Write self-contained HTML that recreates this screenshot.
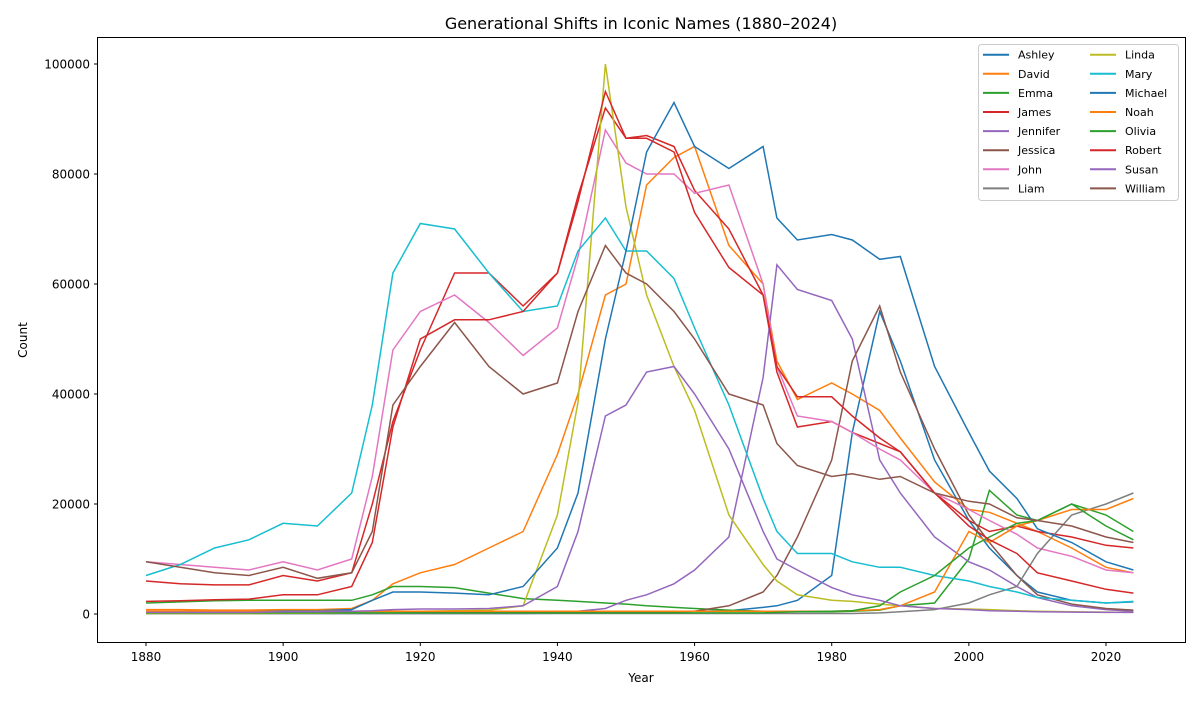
<!DOCTYPE html>
<html><head><meta charset="utf-8"><style>
body{margin:0;background:#fff;font-family:"Liberation Sans","DejaVu Sans",sans-serif;}
svg text{font-family:"DejaVu Sans","Liberation Sans",sans-serif;}
</style></head><body>
<svg id="chart" width="1200" height="700" xmlns="http://www.w3.org/2000/svg">
<rect x="0" y="0" width="1200" height="700" fill="#fff"/>
<text x="641" y="29" font-size="16" text-anchor="middle">Generational Shifts in Iconic Names (1880–2024)</text>
<g id="plot"></g>
<rect x="97.5" y="37.5" width="1088" height="605" fill="none" stroke="#000" stroke-width="1"/>
<text x="641" y="682" font-size="12" text-anchor="middle">Year</text>
<text x="27" y="340" font-size="12" text-anchor="middle" transform="rotate(-90 27 340)">Count</text>
<g id="axes"></g>
<g id="legend"></g>
</svg>
<script>
const years=[1880,1885,1890,1895,1900,1905,1910,1913,1916,1920,1925,1930,1935,1940,1943,1947,1950,1953,1957,1960,1965,1970,1972,1975,1980,1983,1987,1990,1995,2000,2003,2007,2010,2015,2020,2024];
const seriesNames=["Ashley","David","Emma","James","Jennifer","Jessica","John","Liam","Linda","Mary","Michael","Noah","Olivia","Robert","Susan","William"];
const seriesColors=["#1f77b4","#ff7f0e","#2ca02c","#d62728","#9467bd","#8c564b","#e377c2","#7f7f7f","#bcbd22","#17becf","#1f77b4","#ff7f0e","#2ca02c","#d62728","#9467bd","#8c564b"];
const ashley=[100,100,100,100,100,100,100,100,100,100,100,100,100,150,200,250,300,350,400,500,600,1200,1500,2500,7000,33000,55000,46000,28000,17000,12000,7000,4000,2500,2000,2200];
const david=[800,800,700,700,800,800,1000,2500,5500,7500,9000,12000,15000,29000,40000,58000,60000,78000,83000,85000,67000,60000,46000,39000,42000,40000,37000,32000,24000,19000,18500,16500,15000,12000,8500,7500];
const emma=[2000,2200,2400,2500,2500,2500,2500,3500,5000,5000,4800,3800,2800,2500,2300,2000,1800,1500,1200,1000,700,500,450,400,400,500,700,1500,2000,10000,22500,18000,17000,20000,18000,15000];
const james=[6000,5500,5300,5300,7000,6000,7500,20000,35000,48000,62000,62000,56000,62000,76000,92000,86500,87000,85000,77000,70000,58000,44000,34000,35000,33000,31000,29500,22000,17000,15000,16000,15000,14000,12500,12000];
const jennifer=[100,100,100,100,100,100,100,100,100,100,100,100,150,300,500,1000,2500,3500,5500,8000,14000,43000,63500,59000,57000,50000,28000,22000,14000,9500,8000,5000,3000,1500,800,500];
const jessica=[200,200,200,200,250,250,300,300,300,300,300,300,300,300,300,350,400,400,400,500,1500,4000,7000,14000,28000,46000,56000,44000,30000,18000,13000,7000,3500,1800,1000,700];
const john=[9500,9000,8500,8000,9500,8000,10000,25000,48000,55000,58000,53000,47000,52000,65000,88000,82000,80000,80000,76500,78000,60000,45000,36000,35000,33000,30000,28000,22000,19000,17000,14500,12000,10500,8000,7500];
const liam=[100,100,100,100,100,100,100,100,100,100,100,100,100,100,100,100,100,100,100,100,100,100,100,100,100,100,200,400,800,2000,3500,5000,11000,18000,20000,22000];
const linda=[100,100,100,100,150,150,200,300,400,500,600,700,1500,18000,38500,100000,74000,58000,45000,37000,18000,9000,6000,3500,2500,2300,1800,1500,1000,900,800,600,500,400,350,300];
const mary=[7000,9000,12000,13500,16500,16000,22000,38000,62000,71000,70000,62000,55000,56000,66000,72000,66000,66000,61000,52000,38000,21000,15000,11000,11000,9500,8500,8500,7000,6000,5000,4000,3000,2500,2000,2300];
const michael=[500,500,500,500,600,600,800,2500,4000,4000,3800,3500,5000,12000,22000,50000,66000,84000,93000,85000,81000,85000,72000,68000,69000,68000,64500,65000,45000,33000,26000,21000,15500,13000,9500,8000];
const noah=[500,500,500,500,500,500,500,500,500,500,500,500,500,500,500,500,500,500,500,500,500,500,500,500,500,600,800,1500,4000,15000,13000,16000,17000,19000,19000,21000];
const olivia=[200,200,200,200,200,200,200,200,200,200,200,200,200,200,200,200,200,200,200,200,200,200,300,400,500,600,1500,4000,7000,12000,14000,16500,17000,20000,16000,13500];
const robert=[2300,2400,2600,2700,3500,3500,5000,13000,34000,50000,53500,53500,55000,62000,75000,95000,86500,86500,84000,73000,63000,58000,45000,39500,39500,36000,32000,29500,22000,16000,13500,11000,7500,6000,4500,3800];
const susan=[300,300,300,300,400,400,500,600,800,900,900,1000,1500,5000,15000,36000,38000,44000,45000,40000,30000,15000,10000,8000,4800,3500,2500,1500,1000,800,600,500,400,350,300,300];
const william=[9500,8500,7500,7000,8500,6500,7500,15000,38000,45000,53000,45000,40000,42000,55000,67000,62000,60000,55000,50000,40000,38000,31000,27000,25000,25500,24500,25000,22000,20500,20000,17500,17000,16000,14000,13000];
const seriesValues=[ashley,david,emma,james,jennifer,jessica,john,liam,linda,mary,michael,noah,olivia,robert,susan,william];
const xTicks=[1880,1900,1920,1940,1960,1980,2000,2020];
const yTicks=[0,20000,40000,60000,80000,100000];

const NS="http://www.w3.org/2000/svg";
const xS=y=>146+(y-1880)*960/140;
const yS=v=>614-v*550/100000;
const plot=document.getElementById('plot');
seriesValues.forEach((vals,i)=>{
  const p=document.createElementNS(NS,'polyline');
  p.setAttribute('points',vals.map((v,j)=>xS(years[j]).toFixed(1)+','+yS(v).toFixed(1)).join(' '));
  p.setAttribute('fill','none');p.setAttribute('stroke',seriesColors[i]);p.setAttribute('stroke-width','1.5');
  
  
  plot.appendChild(p);
});
const axes=document.getElementById('axes');
xTicks.forEach(t=>{
  const l=document.createElementNS(NS,'line');
  l.setAttribute('x1',xS(t));l.setAttribute('x2',xS(t));l.setAttribute('y1',642.5);l.setAttribute('y2',646);l.setAttribute('stroke','#000');
  
  
  axes.appendChild(l);
  const tx=document.createElementNS(NS,'text');
  tx.setAttribute('x',xS(t));tx.setAttribute('y',661);tx.setAttribute('font-size','12');tx.setAttribute('text-anchor','middle');tx.textContent=t;
  
  
  axes.appendChild(tx);
});
yTicks.forEach(t=>{
  const l=document.createElementNS(NS,'line');
  l.setAttribute('x1',94);l.setAttribute('x2',97.5);l.setAttribute('y1',yS(t));l.setAttribute('y2',yS(t));l.setAttribute('stroke','#000');
  
  
  axes.appendChild(l);
  const tx=document.createElementNS(NS,'text');
  tx.setAttribute('x',90);tx.setAttribute('y',yS(t)+4.5);tx.setAttribute('font-size','12');tx.setAttribute('text-anchor','end');tx.textContent=t;
  
  
  axes.appendChild(tx);
});
const lg=document.getElementById('legend');
const box=document.createElementNS(NS,'rect');
box.setAttribute('x',978.5);box.setAttribute('y',44.5);box.setAttribute('width',200);box.setAttribute('height',156);box.setAttribute('rx',3);
box.setAttribute('fill','#fff');box.setAttribute('fill-opacity','0.8');box.setAttribute('stroke','#ccc');


lg.appendChild(box);
seriesNames.forEach((n,i)=>{
  const col=Math.floor(i/8),row=i%8;
  const lx=col?1090:983, ty=54.7+row*19.1;
  const l=document.createElementNS(NS,'line');
  l.setAttribute('x1',lx);l.setAttribute('x2',lx+26);l.setAttribute('y1',ty);l.setAttribute('y2',ty);
  l.setAttribute('stroke',seriesColors[i]);l.setAttribute('stroke-width','2');
  
  
  lg.appendChild(l);
  const tx=document.createElementNS(NS,'text');
  tx.setAttribute('x',lx+35);tx.setAttribute('y',ty+4);tx.setAttribute('font-size','11');tx.textContent=n;
  
  
  lg.appendChild(tx);
});
</script>
</body></html>
